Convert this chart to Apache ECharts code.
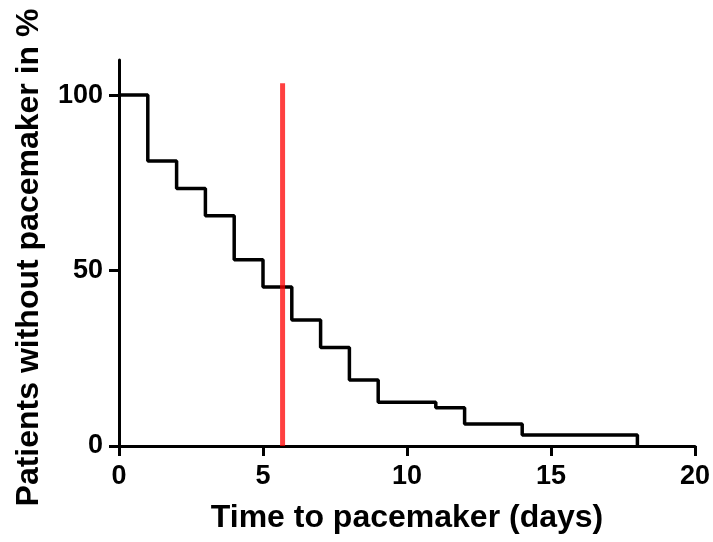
<!DOCTYPE html>
<html>
<head>
<meta charset="utf-8">
<script src="https://cdn.jsdelivr.net/npm/echarts@6/dist/echarts.min.js"></script>
<style>
  html, body { margin: 0; padding: 0; background: #fff; }
  #chart { width: 713px; height: 542px; }
</style>
</head>
<body>
<div id="chart"></div>
<script>
// Kaplan-Meier steps: time (days) and % of patients without pacemaker
const times = [0, 1, 2, 3, 4, 5, 6, 7, 8, 9, 11, 12, 14, 18]
const survival = [100, 81.2, 73.4, 65.6, 53.1, 45.3, 35.9, 28.1, 18.8, 12.5, 10.9, 6.3, 3.1, 0]

// median marker (red vertical line)
const medianX = [5.68, 5.68]
const medianY = [0, 103.4]

const yTicks = [0, 50, 100]

const font = "'Liberation Sans', Arial, sans-serif"

const chart = echarts.init(document.getElementById('chart'))

const stepData = times.map((t, i) => [t, survival[i]])
const medianData = medianX.map((x, i) => [x, medianY[i]])

chart.setOption({
    animation: false,
    grid: {
        left: 119,
        right: 18,
        top: 60,
        bottom: 96,
        containLabel: false,
        outerBoundsMode: 'none'
    },
    xAxis: {
        type: 'value',
        min: 0,
        max: 20,
        interval: 5,
        name: 'Time to pacemaker (days)',
        nameLocation: 'middle',
        nameGap: 56,
        nameTextStyle: { fontFamily: font, fontWeight: 'bold', fontSize: 32, color: '#000' },
        axisLine: { show: true, lineStyle: { color: '#000', width: 3 } },
        axisTick: { show: true, length: 10, lineStyle: { color: '#000', width: 3 } },
        axisLabel: { fontFamily: font, fontWeight: 'bold', fontSize: 27, color: '#000', margin: 17 },
        splitLine: { show: false }
    },
    yAxis: {
        type: 'value',
        min: 0,
        max: 110,
        interval: 50,
        name: 'Patients without pacemaker in %',
        nameLocation: 'middle',
        nameGap: 74,
        nameTextStyle: { fontFamily: font, fontWeight: 'bold', fontSize: 32, color: '#000', padding: [0, 9, 0, 0] },
        axisLine: { show: true, lineStyle: { color: '#000', width: 3 } },
        axisTick: { show: true, length: 10, customValues: yTicks, lineStyle: { color: '#000', width: 3 } },
        axisLabel: { fontFamily: font, fontWeight: 'bold', fontSize: 27, color: '#000', margin: 16, customValues: yTicks },
        splitLine: { show: false }
    },
    series: [
        {
            name: 'Survival',
            type: 'line',
            step: 'end',
            data: stepData,
            showSymbol: false,
            lineStyle: { color: '#000', width: 3.5 },
            z: 3
        },
        {
            name: 'Median',
            type: 'line',
            data: medianData,
            showSymbol: false,
            lineStyle: { color: 'rgba(255,0,0,0.75)', width: 5 },
            z: 4
        }
    ]
})
</script>
</body>
</html>
